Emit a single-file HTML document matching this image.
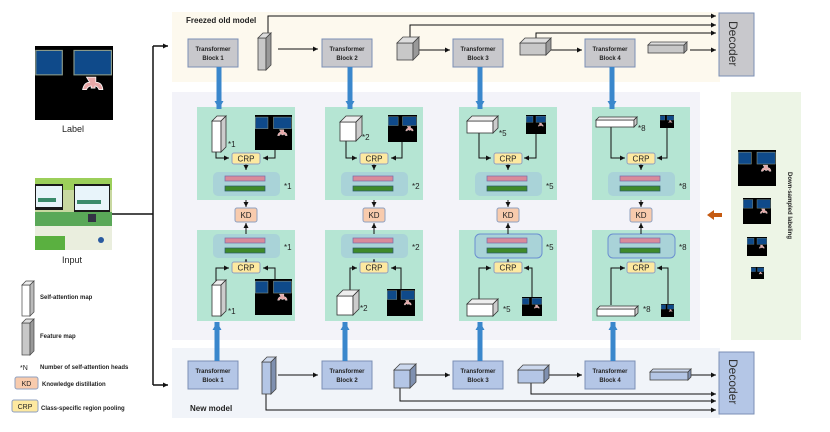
<!DOCTYPE html>
<html><head><meta charset="utf-8"><style>
html,body{margin:0;padding:0;background:#fff;}
svg{display:block;font-family:"Liberation Sans",sans-serif;}
.tb{font-size:6px;font-weight:bold;fill:#222;text-anchor:middle;}
.sm{font-size:6px;font-weight:bold;fill:#222;}
.st{font-size:9px;fill:#222;}
.ln{stroke:#111;stroke-width:1;fill:none;}
</style></head><body>
<svg width="830" height="432" viewBox="0 0 830 432" xmlns="http://www.w3.org/2000/svg">
<defs>
<marker id="ah" markerWidth="6" markerHeight="6" refX="5" refY="3" orient="auto" markerUnits="userSpaceOnUse"><path d="M0,0.5 L5,3 L0,5.5z" fill="#111"/></marker>
<marker id="ab" markerWidth="9" markerHeight="9" refX="8" refY="4.5" orient="auto" markerUnits="userSpaceOnUse"><path d="M0,0 L8,4.5 L0,9z" fill="#3a87cc"/></marker>
<symbol id="lab" viewBox="0 0 100 100">
<rect width="100" height="100" fill="#000"/>
<rect x="1" y="6" width="34" height="33" fill="#0f4a8a" stroke="#8a9a8a" stroke-width="1.5"/>
<rect x="50" y="6" width="48" height="33" fill="#0f4a8a" stroke="#8a9a8a" stroke-width="1.5"/>
<path d="M66,42 h12 v7 q8,0 9,10 h-5 q-2,-5 -5,-5 v3 h-5 v-3 q-4,0 -6,5 h-5 q2,-10 9,-10z" fill="#e8a8a8" stroke="#fff" stroke-width="1"/>
</symbol>
</defs>

<!-- bands -->
<rect x="172" y="12" width="548" height="70" fill="#fdf9ee"/>
<rect x="172" y="92" width="528" height="248" fill="#f3f3f9"/>
<rect x="731" y="92" width="70" height="248" fill="#edf5e6"/>
<rect x="172" y="348" width="548" height="70" fill="#f1f4f9"/>
<text x="186" y="23" font-size="8" font-weight="bold" fill="#222">Freezed old model</text>
<text x="190" y="411" font-size="8" font-weight="bold" fill="#222">New model</text>

<!-- left -->
<svg x="35" y="46" width="78" height="74" viewBox="0 0 100 100" preserveAspectRatio="none"><use href="#lab"/></svg>
<text x="73" y="132" class="st" text-anchor="middle">Label</text>
<g>
<rect x="35" y="178" width="77" height="72" fill="#c8d8a0"/>
<rect x="35" y="178" width="77" height="12" fill="#9ccf5a"/>
<rect x="35" y="184" width="28" height="26" fill="#1a1a1a"/>
<rect x="36" y="186" width="26" height="21" fill="#e8f4fa"/>
<rect x="74" y="184" width="36" height="28" fill="#1a1a1a"/>
<rect x="75" y="186" width="34" height="24" fill="#e8f4fa"/>
<rect x="77" y="200" width="24" height="4" fill="#3a8a6a"/>
<rect x="38" y="198" width="18" height="4" fill="#3a8a6a"/>
<rect x="35" y="212" width="77" height="14" fill="#5aa858"/>
<rect x="35" y="226" width="77" height="24" fill="#eaeede"/>
<rect x="35" y="236" width="30" height="14" fill="#5ab040"/>
<rect x="88" y="214" width="8" height="8" fill="#334"/>
<circle cx="101" cy="240" r="3" fill="#2a5aa0"/>
</g>
<text x="72" y="263" class="st" text-anchor="middle">Input</text>
<path d="M112,214 H153" stroke="#111" stroke-width="1.5"/>
<path d="M153,46 V385" stroke="#111" stroke-width="1.5"/>
<path d="M153,46 H168" stroke="#111" stroke-width="1.5" marker-end="url(#ah)"/>
<path d="M153,385 H168" stroke="#111" stroke-width="1.5" marker-end="url(#ah)"/>

<!-- legend -->
<g stroke="#444" stroke-width="0.7">
<rect x="22" y="285" width="8" height="31" fill="#fff"/><polygon points="22,285 26,281 34,281 30,285" fill="#eee"/><polygon points="30,285 34,281 34,312 30,316" fill="#bbb"/>
<rect x="22" y="323" width="8" height="32" fill="#c8c8c8"/><polygon points="22,323 26,319 34,319 30,323" fill="#ddd"/><polygon points="30,323 34,319 34,351 30,355" fill="#999"/>
</g>
<text x="40" y="299" class="sm" font-size="5.5">Self-attention map</text>
<text x="40" y="338" class="sm" font-size="5.5">Feature map</text>
<text x="20" y="370" font-size="7" fill="#222">*N</text>
<text x="40" y="369" class="sm" font-size="5.5">Number of self-attention heads</text>
<rect x="15" y="377" width="23" height="12" rx="2" fill="#f8cbad" stroke="#8fa0c0"/><text x="26.5" y="386" font-size="7" text-anchor="middle" fill="#222">KD</text>
<text x="42" y="386" class="sm" font-size="5.5">Knowledge distillation</text>
<rect x="12" y="400" width="26" height="12" rx="2" fill="#fde9a0" stroke="#8fa0c0"/><text x="25" y="409" font-size="7" text-anchor="middle" fill="#222">CRP</text>
<text x="41" y="410" class="sm" font-size="5.5">Class-specific region pooling</text>

<!-- blocks -->
<g stroke="#7b8fb5" stroke-width="1">
<rect x="188" y="39" width="50" height="28" fill="#c8c8cc"/>
<rect x="322" y="39" width="50" height="28" fill="#c8c8cc"/>
<rect x="453" y="39" width="50" height="28" fill="#c8c8cc"/>
<rect x="585" y="39" width="50" height="28" fill="#c8c8cc"/>
<rect x="719" y="13" width="35" height="63" fill="#c8c8cc"/>
<rect x="188" y="361" width="50" height="28" fill="#b4c6e6"/>
<rect x="322" y="361" width="50" height="28" fill="#b4c6e6"/>
<rect x="453" y="361" width="50" height="28" fill="#b4c6e6"/>
<rect x="585" y="361" width="50" height="28" fill="#b4c6e6"/>
<rect x="719" y="352" width="35" height="62" fill="#b4c6e6"/>
</g>
<text class="tb" x="213" y="51">Transformer</text><text class="tb" x="213" y="60">Block 1</text>
<text class="tb" x="347" y="51">Transformer</text><text class="tb" x="347" y="60">Block 2</text>
<text class="tb" x="478" y="51">Transformer</text><text class="tb" x="478" y="60">Block 3</text>
<text class="tb" x="610" y="51">Transformer</text><text class="tb" x="610" y="60">Block 4</text>
<text class="tb" x="213" y="373">Transformer</text><text class="tb" x="213" y="382">Block 1</text>
<text class="tb" x="347" y="373">Transformer</text><text class="tb" x="347" y="382">Block 2</text>
<text class="tb" x="478" y="373">Transformer</text><text class="tb" x="478" y="382">Block 3</text>
<text class="tb" x="610" y="373">Transformer</text><text class="tb" x="610" y="382">Block 4</text>
<text x="0" y="0" transform="translate(729,21) rotate(90)" font-size="12" fill="#333">Decoder</text>
<text x="0" y="0" transform="translate(729,359) rotate(90)" font-size="12" fill="#333">Decoder</text>

<!-- connectors -->
<g class="ln" stroke-width="1.2">
<path d="M268,33 V16 H716" marker-end="url(#ah)"/>
<path d="M410,37 V25 H716" marker-end="url(#ah)" />
<path d="M536,38 V33 H716" marker-end="url(#ah)"/>
<path d="M278,49 H318" marker-end="url(#ah)"/>
<path d="M414,50 H450" marker-end="url(#ah)"/>
<path d="M550,50 H582" marker-end="url(#ah)"/>
<path d="M690,50 H716" marker-end="url(#ah)"/>
<path d="M266,394 V410 H716" marker-end="url(#ah)"/>
<path d="M400,388 V401 H716" marker-end="url(#ah)"/>
<path d="M531,383 V394 H716" marker-end="url(#ah)"/>
<path d="M278,375 H318" marker-end="url(#ah)"/>
<path d="M414,375 H450" marker-end="url(#ah)"/>
<path d="M546,375 H582" marker-end="url(#ah)"/>
<path d="M690,375 H716" marker-end="url(#ah)"/>
</g>
<g stroke="#444" stroke-width="0.8">
<rect x="258" y="38" width="8" height="32" fill="#c8c8c8"/><polygon points="258,38 263,33 271,33 266,38" fill="#ddd"/><polygon points="266,38 271,33 271,65 266,70" fill="#999"/>
<rect x="397" y="43" width="16" height="17" fill="#c8c8c8"/><polygon points="397,43 403,37 419,37 413,43" fill="#ddd"/><polygon points="413,43 419,37 419,54 413,60" fill="#999"/>
<rect x="520" y="43" width="26" height="12" fill="#c8c8c8"/><polygon points="520,43 525,38 551,38 546,43" fill="#ddd"/><polygon points="546,43 551,38 551,50 546,55" fill="#999"/>
<rect x="648" y="45" width="36" height="8" fill="#c8c8c8"/><polygon points="648,45 651,42 687,42 684,45" fill="#ddd"/><polygon points="684,45 687,42 687,50 684,53" fill="#999"/>
<rect x="262" y="362" width="9" height="32" fill="#b4c6e6"/><polygon points="262,362 267,357 276,357 271,362" fill="#ccd8ee"/><polygon points="271,362 276,357 276,389 271,394" fill="#7f90b0"/>
<rect x="394" y="370" width="16" height="18" fill="#b4c6e6"/><polygon points="394,370 400,364 416,364 410,370" fill="#ccd8ee"/><polygon points="410,370 416,364 416,382 410,388" fill="#7f90b0"/>
<rect x="518" y="370" width="26" height="13" fill="#b4c6e6"/><polygon points="518,370 523,365 549,365 544,370" fill="#ccd8ee"/><polygon points="544,370 549,365 549,378 544,383" fill="#7f90b0"/>
<rect x="650" y="372" width="38" height="8" fill="#b4c6e6"/><polygon points="650,372 653,369 691,369 688,372" fill="#ccd8ee"/><polygon points="688,372 691,369 691,377 688,380" fill="#7f90b0"/>
</g>

<!-- panels -->
<g fill="#b5e5d3">
<rect x="197" y="107" width="98" height="93"/><rect x="325" y="107" width="98" height="93"/><rect x="459" y="107" width="98" height="93"/><rect x="592" y="107" width="98" height="93"/>
<rect x="197" y="230" width="98" height="91"/><rect x="325" y="230" width="98" height="91"/><rect x="459" y="230" width="98" height="91"/><rect x="592" y="230" width="98" height="91"/>
</g>
<g fill="#a9d3d8">
<rect x="213" y="172" width="67" height="24" rx="5"/><rect x="341" y="172" width="67" height="24" rx="5"/><rect x="475" y="172" width="67" height="24" rx="5"/><rect x="608" y="172" width="67" height="24" rx="5"/>
<rect x="213" y="234" width="67" height="24" rx="5"/><rect x="341" y="234" width="67" height="24" rx="5"/>
<rect x="475" y="234" width="67" height="24" rx="5" stroke="#6a8fd0"/><rect x="608" y="234" width="67" height="24" rx="5" stroke="#6a8fd0"/>
</g>
<g fill="#d98a9a" stroke="#7a6aa8" stroke-width="0.7">
<rect x="225" y="176" width="40" height="5"/><rect x="353" y="176" width="40" height="5"/><rect x="487" y="176" width="40" height="5"/><rect x="620" y="176" width="40" height="5"/>
<rect x="225" y="238" width="40" height="5"/><rect x="353" y="238" width="40" height="5"/><rect x="487" y="238" width="40" height="5"/><rect x="620" y="238" width="40" height="5"/>
</g>
<g fill="#3f8a2a" stroke="#2a5a6a" stroke-width="0.7">
<rect x="225" y="186" width="40" height="5"/><rect x="353" y="186" width="40" height="5"/><rect x="487" y="186" width="40" height="5"/><rect x="620" y="186" width="40" height="5"/>
<rect x="225" y="248" width="40" height="5"/><rect x="353" y="248" width="40" height="5"/><rect x="487" y="248" width="40" height="5"/><rect x="620" y="248" width="40" height="5"/>
</g>
<g font-size="8" fill="#222">
<text x="284" y="189">*1</text><text x="412" y="189">*2</text><text x="546" y="189">*5</text><text x="679" y="189">*8</text>
<text x="284" y="250">*1</text><text x="412" y="250">*2</text><text x="546" y="250">*5</text><text x="679" y="250">*8</text>
<text x="228" y="147">*1</text><text x="362" y="140">*2</text><text x="499" y="136">*5</text><text x="638" y="131">*8</text>
<text x="228" y="314">*1</text><text x="360" y="311">*2</text><text x="503" y="312">*5</text><text x="643" y="312">*8</text>
</g>

<svg x="255" y="115" width="37" height="35" viewBox="0 0 100 100" preserveAspectRatio="none"><use href="#lab"/></svg>
<svg x="388" y="115" width="29" height="27" viewBox="0 0 100 100" preserveAspectRatio="none"><use href="#lab"/></svg>
<svg x="526" y="115" width="20" height="19" viewBox="0 0 100 100" preserveAspectRatio="none"><use href="#lab"/></svg>
<svg x="660" y="115" width="14" height="13" viewBox="0 0 100 100" preserveAspectRatio="none"><use href="#lab"/></svg>
<svg x="255" y="279" width="37" height="36" viewBox="0 0 100 100" preserveAspectRatio="none"><use href="#lab"/></svg>
<svg x="387" y="289" width="28" height="27" viewBox="0 0 100 100" preserveAspectRatio="none"><use href="#lab"/></svg>
<svg x="522" y="297" width="20" height="19" viewBox="0 0 100 100" preserveAspectRatio="none"><use href="#lab"/></svg>
<svg x="661" y="304" width="13" height="13" viewBox="0 0 100 100" preserveAspectRatio="none"><use href="#lab"/></svg>
<svg x="738" y="150" width="38" height="36" viewBox="0 0 100 100" preserveAspectRatio="none"><use href="#lab"/></svg>
<svg x="743" y="198" width="28" height="26" viewBox="0 0 100 100" preserveAspectRatio="none"><use href="#lab"/></svg>
<svg x="747" y="237" width="20" height="19" viewBox="0 0 100 100" preserveAspectRatio="none"><use href="#lab"/></svg>
<svg x="751" y="267" width="13" height="12" viewBox="0 0 100 100" preserveAspectRatio="none"><use href="#lab"/></svg>
<text transform="translate(788,172) rotate(90)" font-size="6" font-weight="bold" fill="#222">Down-sampled  labeling</text>
<polygon points="707,215 714,210 714,213 722,213 722,217 714,217 714,220" fill="#c55a11"/>

<g class="ln">
<path d="M216,152 V158 H229" marker-end="url(#ah)"/><path d="M275,150 V158 H263" marker-end="url(#ah)"/>
<path d="M346,140 V158 H357" marker-end="url(#ah)"/><path d="M402,142 V158 H391" marker-end="url(#ah)"/>
<path d="M479,132 V158 H491" marker-end="url(#ah)"/><path d="M536,134 V158 H524" marker-end="url(#ah)"/>
<path d="M611,127 V158 H625" marker-end="url(#ah)"/><path d="M667,128 V158 H657" marker-end="url(#ah)"/>
<path d="M246,164 V170" marker-end="url(#ah)"/><path d="M374,164 V170" marker-end="url(#ah)"/><path d="M508,164 V170" marker-end="url(#ah)"/><path d="M641,164 V170" marker-end="url(#ah)"/>
<path d="M246,200 V207" marker-end="url(#ah)"/><path d="M374,200 V207" marker-end="url(#ah)"/><path d="M508,200 V207" marker-end="url(#ah)"/><path d="M641,200 V207" marker-end="url(#ah)"/>
<path d="M246,234 V223" marker-end="url(#ah)"/><path d="M374,234 V223" marker-end="url(#ah)"/><path d="M508,234 V223" marker-end="url(#ah)"/><path d="M641,234 V223" marker-end="url(#ah)"/>
<path d="M246,262 V259" marker-end="url(#ah)"/><path d="M374,262 V259" marker-end="url(#ah)"/><path d="M508,262 V259" marker-end="url(#ah)"/><path d="M641,262 V259" marker-end="url(#ah)"/>
<path d="M216,282 V268 H229" marker-end="url(#ah)"/><path d="M275,279 V268 H263" marker-end="url(#ah)"/>
<path d="M350,290 V268 H357" marker-end="url(#ah)"/><path d="M401,289 V268 H391" marker-end="url(#ah)"/>
<path d="M479,300 V268 H491" marker-end="url(#ah)"/><path d="M532,297 V268 H524" marker-end="url(#ah)"/>
<path d="M611,305 V268 H625" marker-end="url(#ah)"/><path d="M668,304 V268 H657" marker-end="url(#ah)"/>
</g>

<g fill="#fde9a0" stroke="#8fa0c0">
<rect x="232" y="153" width="28" height="11" rx="2"/><rect x="360" y="153" width="28" height="11" rx="2"/><rect x="494" y="153" width="28" height="11" rx="2"/><rect x="627" y="153" width="28" height="11" rx="2"/>
<rect x="232" y="262" width="28" height="11" rx="2"/><rect x="360" y="262" width="28" height="11" rx="2"/><rect x="494" y="262" width="28" height="11" rx="2"/><rect x="627" y="262" width="28" height="11" rx="2"/>
</g>
<g fill="#f8cbad" stroke="#8fa0c0">
<rect x="235" y="208" width="22" height="14" rx="2"/><rect x="363" y="208" width="22" height="14" rx="2"/><rect x="497" y="208" width="22" height="14" rx="2"/><rect x="630" y="208" width="22" height="14" rx="2"/>
</g>
<g font-size="8" fill="#222" text-anchor="middle">
<text x="246" y="161.5">CRP</text><text x="374" y="161.5">CRP</text><text x="508" y="161.5">CRP</text><text x="641" y="161.5">CRP</text>
<text x="246" y="270.5">CRP</text><text x="374" y="270.5">CRP</text><text x="508" y="270.5">CRP</text><text x="641" y="270.5">CRP</text>
<text x="246" y="218">KD</text><text x="374" y="218">KD</text><text x="508" y="218">KD</text><text x="641" y="218">KD</text>
</g>

<g stroke="#333" stroke-width="0.8">
<rect x="212" y="121" width="9" height="31" fill="#fff"/><polygon points="212,121 217,116 226,116 221,121" fill="#eee"/><polygon points="221,121 226,116 226,147 221,152" fill="#ccc"/>
<rect x="340" y="122" width="16" height="19" fill="#fff"/><polygon points="340,122 346,116 362,116 356,122" fill="#eee"/><polygon points="356,122 362,116 362,135 356,141" fill="#ccc"/>
<rect x="467" y="121" width="26" height="12" fill="#fff"/><polygon points="467,121 472,116 498,116 493,121" fill="#eee"/><polygon points="493,121 498,116 498,128 493,133" fill="#ccc"/>
<rect x="596" y="120" width="38" height="7" fill="#fff"/><polygon points="596,120 599,117 637,117 634,120" fill="#eee"/><polygon points="634,120 637,117 637,124 634,127" fill="#ccc"/>
<rect x="212" y="285" width="9" height="31" fill="#fff"/><polygon points="212,285 217,280 226,280 221,285" fill="#eee"/><polygon points="221,285 226,280 226,311 221,316" fill="#ccc"/>
<rect x="337" y="296" width="16" height="19" fill="#fff"/><polygon points="337,296 343,290 359,290 353,296" fill="#eee"/><polygon points="353,296 359,290 359,309 353,315" fill="#ccc"/>
<rect x="467" y="304" width="26" height="12" fill="#fff"/><polygon points="467,304 472,299 498,299 493,304" fill="#eee"/><polygon points="493,304 498,299 498,311 493,316" fill="#ccc"/>
<rect x="597" y="309" width="38" height="7" fill="#fff"/><polygon points="597,309 600,306 638,306 635,309" fill="#eee"/><polygon points="635,309 638,306 638,313 635,316" fill="#ccc"/>
</g>

<g stroke="#3a87cc" stroke-width="5">
<path d="M219,67 V109" marker-end="url(#ab)"/><path d="M350,67 V109" marker-end="url(#ab)"/><path d="M480,67 V109" marker-end="url(#ab)"/><path d="M612,67 V109" marker-end="url(#ab)"/>
<path d="M217,361 V322" marker-end="url(#ab)"/><path d="M345,361 V322" marker-end="url(#ab)"/><path d="M480,361 V322" marker-end="url(#ab)"/><path d="M613,361 V322" marker-end="url(#ab)"/>
</g>
</svg>
</body></html>
